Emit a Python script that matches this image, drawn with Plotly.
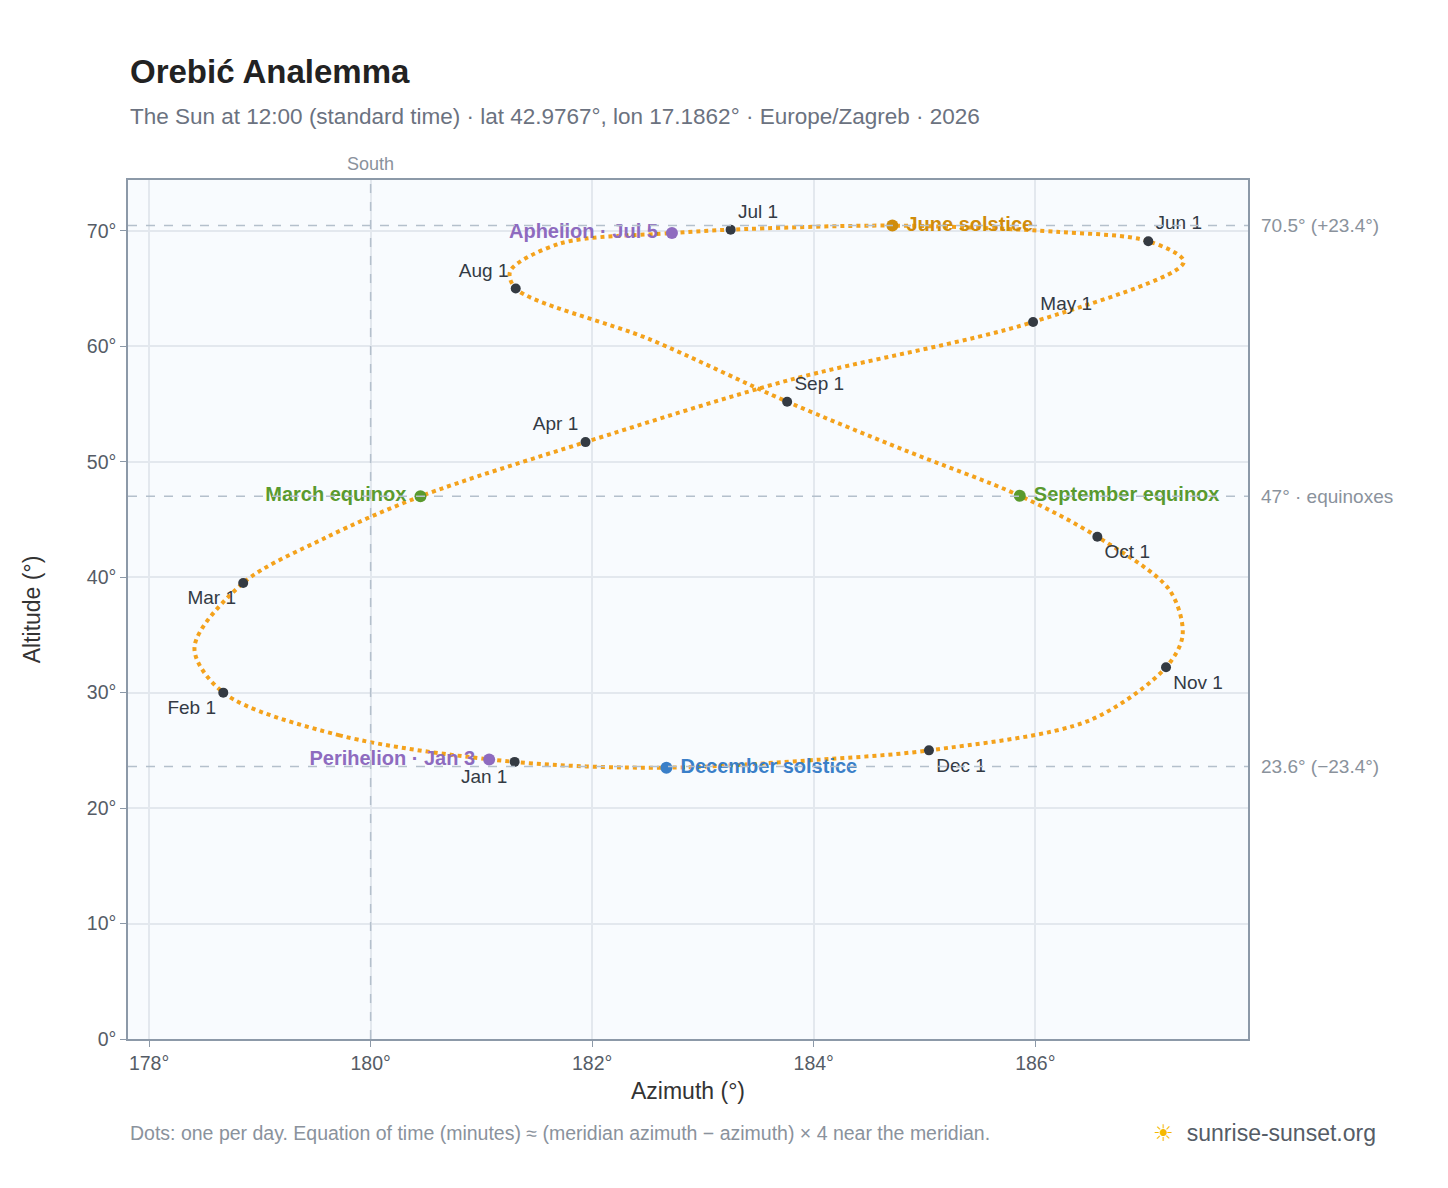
import plotly.graph_objects as go

# Sun position at local noon (azimuth deg, altitude deg)
path_dates = ["Jan 1", "Jan 15", "Feb 1", "Feb 12", "Mar 1", "Mar 15", "Mar 20", "Apr 1", "Apr 15",
              "May 1", "May 15", "Jun 1", "Jun 10", "Jun 21", "Jul 1", "Jul 5", "Jul 15", "Jul 26",
              "Aug 1", "Aug 15", "Sep 1", "Sep 15", "Sep 23", "Oct 1", "Oct 15", "Oct 25", "Nov 1",
              "Nov 15", "Dec 1", "Dec 10", "Dec 21", "Jan 1"]
path_az = [181.30, 179.72, 178.67, 178.41, 178.85, 179.59, 180.45, 181.94, 183.79,
           185.98, 187.34, 187.02, 186.22, 184.71, 183.25, 182.72, 181.71, 181.26,
           181.31, 182.52, 183.76, 184.82, 185.86, 186.56, 187.21, 187.33, 187.18,
           186.49, 185.04, 184.06, 182.67, 181.30]
path_alt = [24.0, 26.3, 30.0, 33.9, 39.5, 43.4, 47.0, 51.7, 57.1,
            62.1, 67.3, 69.1, 69.9, 70.45, 70.1, 69.8, 68.9, 66.5,
            65.0, 60.6, 55.2, 51.0, 47.05, 43.5, 38.9, 35.0, 32.2,
            27.6, 25.0, 24.2, 23.5, 24.0]

month_labels = ["Jan 1", "Feb 1", "Mar 1", "Apr 1", "May 1", "Jun 1", "Jul 1", "Aug 1",
                "Sep 1", "Oct 1", "Nov 1", "Dec 1"]
month_az = [181.30, 178.67, 178.85, 181.94, 185.98, 187.02, 183.25, 181.31, 183.76, 186.56, 187.18, 185.04]
month_alt = [24.0, 30.0, 39.5, 51.7, 62.1, 69.1, 70.1, 65.0, 55.2, 43.5, 32.2, 25.0]
month_pos = ["bottom left", "bottom left", "bottom left", "top left", "top right", "top right",
             "top right", "top left", "top right", "bottom right", "bottom right", "bottom right"]

events = ["March equinox", "June solstice", "September equinox", "December solstice",
          "Perihelion · Jan 3", "Aphelion · Jul 5"]
event_az = [180.45, 184.71, 185.86, 182.67, 181.07, 182.72]
event_alt = [47.0, 70.45, 47.05, 23.5, 24.2, 69.8]
event_colors = ["#5a9a2e", "#d08c0a", "#5a9a2e", "#3a7fc8", "#8e6bbf", "#8e6bbf"]
event_pos = ["middle left", "middle right", "middle right", "middle right", "middle left", "middle left"]

ref_alts = [70.45, 47.0, 23.6]
ref_labels = ["70.5° (+23.4°)", "47° · equinoxes", "23.6° (−23.4°)"]

fig = go.Figure()
fig.add_trace(go.Scatter(x=path_az, y=path_alt, mode="lines",
                         line=dict(color="#f4a21c", width=4, dash="dot", shape="spline", smoothing=0.9),
                         hoverinfo="skip"))
fig.add_trace(go.Scatter(x=month_az, y=month_alt, mode="markers+text", text=month_labels,
                         textposition=month_pos, textfont=dict(size=19, color="#333a44"),
                         marker=dict(size=10, color="#343a42")))
for name, x, y, c, p in zip(events, event_az, event_alt, event_colors, event_pos):
    fig.add_trace(go.Scatter(x=[x], y=[y], mode="markers+text", text=[" " + name + " "], textposition=p,
                             textfont=dict(size=20, color=c, family="Liberation Sans", weight="bold"),
                             marker=dict(size=12, color=c)))

for a, lab in zip(ref_alts, ref_labels):
    fig.add_shape(type="line", xref="paper", x0=0, x1=1, y0=a, y1=a,
                  line=dict(color="#b4c0cc", width=1.5, dash="dash"))
    fig.add_annotation(xref="paper", x=1.01, y=a, text=lab, showarrow=False, xanchor="left",
                       font=dict(size=19, color="#8a929c"))
fig.add_shape(type="line", yref="paper", x0=180, x1=180, y0=0, y1=1,
              line=dict(color="#b4c0cc", width=1.5, dash="dash"))
fig.add_annotation(x=180, yref="paper", y=1.005, text="South", showarrow=False, yanchor="bottom",
                   font=dict(size=18, color="#8a929c"))

fig.add_annotation(xref="paper", yref="paper", x=0, y=1.126, xanchor="left", yanchor="middle",
                   text="<b>Orebić Analemma</b>", showarrow=False, font=dict(size=33, color="#222"))
fig.add_annotation(xref="paper", yref="paper", x=0, y=1.0745, xanchor="left", yanchor="middle",
                   text="The Sun at 12:00 (standard time) · lat 42.9767°, lon 17.1862° · Europe/Zagreb · 2026",
                   showarrow=False, font=dict(size=22.5, color="#6b7280"))
fig.add_annotation(xref="paper", yref="paper", x=0, y=-0.109, xanchor="left", yanchor="middle",
                   text="Dots: one per day. Equation of time (minutes) ≈ (meridian azimuth − azimuth) × 4 near the meridian.",
                   showarrow=False, font=dict(size=19.5, color="#8a929c"))
fig.add_annotation(xref="paper", yref="paper", x=1.116, y=-0.109, xanchor="right", yanchor="middle",
                   text="<span style='color:#f5b800'>☀</span>  sunrise-sunset.org",
                   showarrow=False, font=dict(size=23, color="#555c66"))

axis_common = dict(showgrid=True, gridcolor="#e3e8ee", gridwidth=1.5, zeroline=False,
                   showline=True, linecolor="#8c99a8", linewidth=1.5, mirror=True,
                   tickfont=dict(size=19.5, color="#555c66"), ticks="outside", ticklen=6,
                   tickcolor="#8c99a8")
fig.update_xaxes(range=[177.81, 187.92], dtick=2, ticksuffix="°",
                 title=dict(text="Azimuth (°)", font=dict(size=23, color="#333"), standoff=10), **axis_common)
fig.update_yaxes(range=[0, 74.4], dtick=10, ticksuffix="°",
                 title=dict(text="Altitude (°)", font=dict(size=23, color="#333"), standoff=40), **axis_common)
fig.update_layout(width=1448, height=1188, showlegend=False,
                  margin=dict(l=120, r=208, t=172, b=157),
                  plot_bgcolor="#f8fbfe", paper_bgcolor="white",
                  font=dict(family="Liberation Sans, Arial, sans-serif"))
fig.write_html("out.html")
